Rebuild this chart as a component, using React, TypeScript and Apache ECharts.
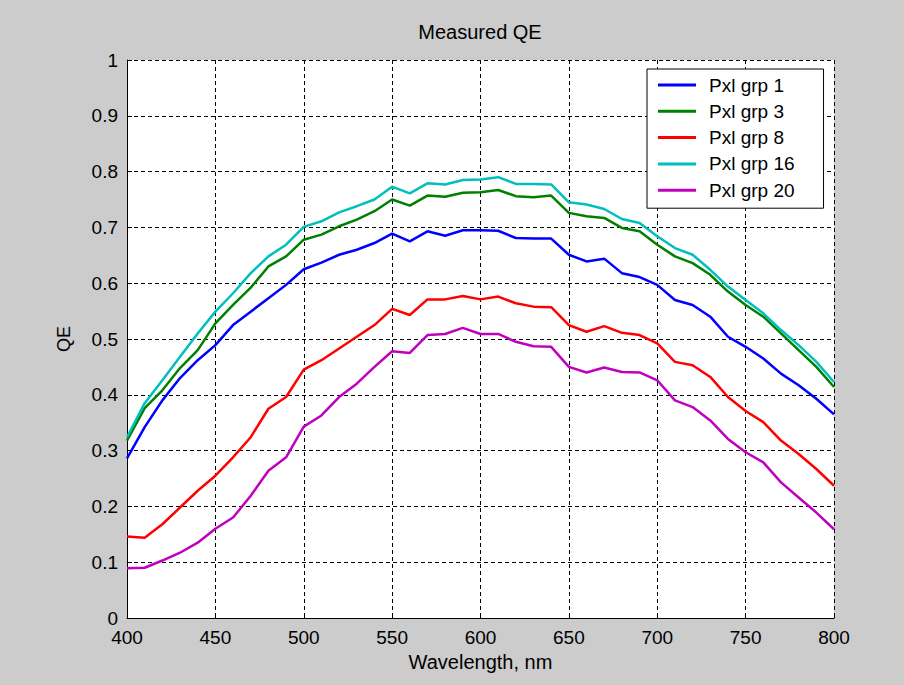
import React, { useEffect, useRef } from "react";
import * as echarts from "echarts";

const wavelengths = [
  400, 410, 420, 430, 440, 450, 460, 470, 480, 490, 500, 510, 520, 530, 540, 550, 560, 570, 580, 590, 600,
  610, 620, 630, 640, 650, 660, 670, 680, 690, 700, 710, 720, 730, 740, 750, 760, 770, 780, 790, 800,
];

const grp1 = [
  0.286, 0.342, 0.39, 0.43, 0.462, 0.489, 0.525, 0.549, 0.573, 0.597, 0.625, 0.637, 0.651, 0.66, 0.672, 0.689,
  0.675, 0.693, 0.685, 0.695, 0.695, 0.694, 0.681, 0.68, 0.68, 0.651, 0.639, 0.644, 0.618, 0.611, 0.597, 0.57,
  0.561, 0.54, 0.504, 0.486, 0.465, 0.438, 0.417, 0.393, 0.365,
];
const grp3 = [
  0.318, 0.376, 0.408, 0.448, 0.48, 0.528, 0.561, 0.592, 0.63, 0.648, 0.678, 0.687, 0.702, 0.714, 0.729, 0.75,
  0.739, 0.757, 0.755, 0.762, 0.763, 0.767, 0.756, 0.754, 0.757, 0.726, 0.72, 0.717, 0.699, 0.693, 0.669, 0.648,
  0.636, 0.615, 0.585, 0.561, 0.54, 0.51, 0.48, 0.45, 0.414,
];
const grp8 = [
  0.146, 0.144, 0.168, 0.198, 0.228, 0.255, 0.288, 0.324, 0.375, 0.396, 0.445, 0.462, 0.483, 0.504, 0.525, 0.554,
  0.543, 0.571, 0.571, 0.577, 0.571, 0.576, 0.564, 0.558, 0.557, 0.525, 0.513, 0.523, 0.511, 0.507, 0.492, 0.459,
  0.453, 0.432, 0.396, 0.371, 0.351, 0.318, 0.294, 0.267, 0.237,
];
const grp16 = [
  0.324, 0.385, 0.426, 0.468, 0.51, 0.549, 0.582, 0.618, 0.648, 0.669, 0.701, 0.711, 0.727, 0.738, 0.75, 0.773,
  0.761, 0.779, 0.777, 0.785, 0.786, 0.79, 0.778, 0.778, 0.777, 0.745, 0.741, 0.733, 0.715, 0.708, 0.684, 0.663,
  0.651, 0.624, 0.594, 0.57, 0.546, 0.516, 0.489, 0.459, 0.423,
];
const grp20 = [
  0.089, 0.09, 0.103, 0.117, 0.135, 0.16, 0.18, 0.219, 0.264, 0.288, 0.343, 0.363, 0.396, 0.42, 0.45, 0.478,
  0.475, 0.507, 0.509, 0.52, 0.509, 0.509, 0.495, 0.487, 0.486, 0.45, 0.44, 0.449, 0.441, 0.44, 0.426, 0.39,
  0.378, 0.354, 0.321, 0.297, 0.279, 0.243, 0.216, 0.189, 0.159,
];

const seriesNames = ["Pxl grp 1", "Pxl grp 3", "Pxl grp 8", "Pxl grp 16", "Pxl grp 20"];
const seriesValues = [grp1, grp3, grp8, grp16, grp20];
const seriesColors = ["#0000ff", "#008000", "#ff0000", "#00bfbf", "#bf00bf"];

const FONT = "'Liberation Sans', Arial, Helvetica, sans-serif";

export default function App() {
  const ref = useRef<HTMLDivElement>(null);

  useEffect(() => {
    document.body.style.margin = "0";
    document.body.style.background = "#cccccc";
    const chart = echarts.init(ref.current!, null, { renderer: "svg" });
    chart.setOption({
      animation: false,
      backgroundColor: "#cccccc",
      title: {
        text: "Measured QE",
        left: 480,
        textAlign: "center",
        top: 22,
        padding: 0,
        textStyle: { fontFamily: FONT, fontSize: 20, fontWeight: "normal", color: "#000" },
      },
      legend: {
        orient: "vertical",
        left: 647,
        top: 69,
        data: seriesNames,
        icon: "path://M0,0 L38,0 L38,3 L0,3 Z",
        backgroundColor: "#ffffff",
        borderColor: "#000000",
        borderWidth: 1,
        borderRadius: 0,
        padding: [6, 29, 8, 11],
        itemWidth: 38,
        itemHeight: 3,
        itemGap: 6.3,
        textStyle: { fontFamily: FONT, fontSize: 19, color: "#000", lineHeight: 20, padding: [0, 0, 0, 8] },
      },
      grid: { left: 127, right: 70, top: 60, bottom: 67, backgroundColor: "#ffffff", show: true, borderWidth: 0 },
      xAxis: {
        type: "value",
        min: 400,
        max: 800,
        interval: 50,
        name: "Wavelength, nm",
        nameLocation: "middle",
        nameGap: 33,
        nameTextStyle: { fontFamily: FONT, fontSize: 20, color: "#000" },
        axisLine: { show: true, lineStyle: { color: "#000", width: 1 } },
        axisTick: { show: true, inside: true, length: 5, lineStyle: { color: "#000" } },
        axisLabel: { fontFamily: FONT, fontSize: 19, lineHeight: 16, color: "#000", margin: 11.5 },
        splitLine: { show: true, lineStyle: { color: "#000", type: [4, 3], width: 1 } },
      },
      yAxis: {
        type: "value",
        min: 0,
        max: 1,
        interval: 0.1,
        name: "QE",
        nameLocation: "middle",
        nameGap: 54,
        nameTextStyle: { fontFamily: FONT, fontSize: 18, color: "#000" },
        axisLine: { show: true, lineStyle: { color: "#000", width: 1 } },
        axisTick: { show: true, inside: true, length: 5, lineStyle: { color: "#000" } },
        axisLabel: { fontFamily: FONT, fontSize: 19, lineHeight: 16, color: "#000", margin: 9 },
        splitLine: { show: true, lineStyle: { color: "#000", type: [4, 3], width: 1 } },
      },
      series: seriesNames.map((name, i) => ({
        name,
        type: "line",
        data: wavelengths.map((w, j) => [w, seriesValues[i][j]]),
        showSymbol: false,
        symbol: "none",
        lineStyle: { color: seriesColors[i], width: 2.5 },
        itemStyle: { color: seriesColors[i] },
        z: 3 + i,
      })),
    });
    return () => chart.dispose();
  }, []);

  return <div ref={ref} style={{ position: "fixed", left: 0, top: 0, width: 904, height: 685 }} />;
}
